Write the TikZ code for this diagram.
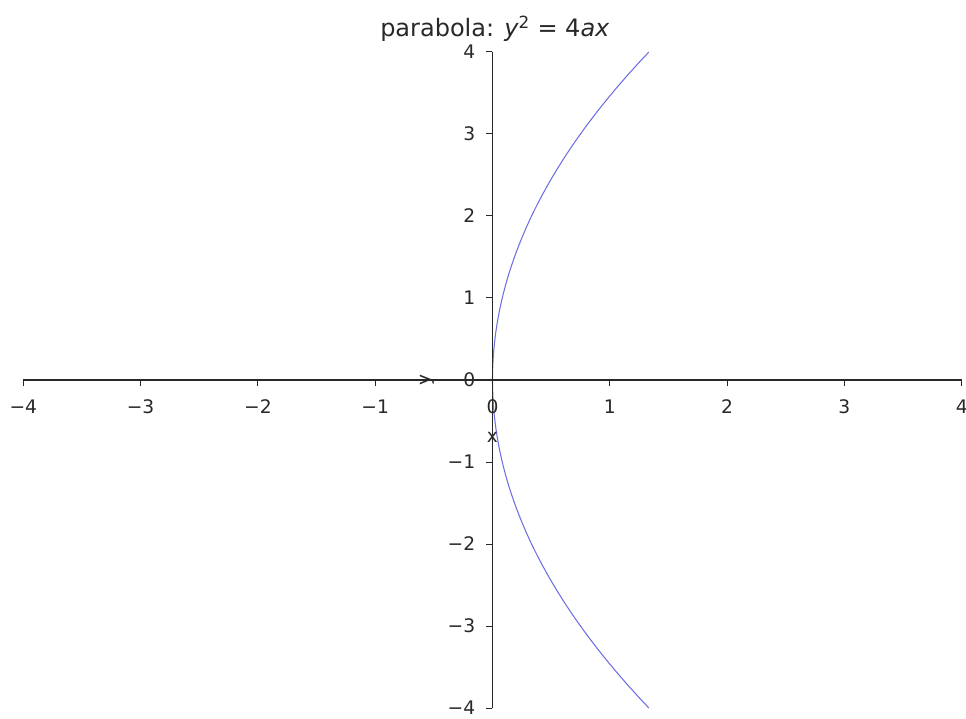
\documentclass[tikz,border=0pt]{standalone}
\usepackage{fontspec}
\setmainfont{DejaVu Sans}
\usepackage{tikz}
\definecolor{curvecolor}{RGB}{112,112,226}
\definecolor{spinecolor}{RGB}{40,40,40}

\begin{document}
\begin{tikzpicture}[
    x=87.975pt, y=61.5pt,
    spine/.style={line width=0.9pt, spinecolor},
    tickmark/.style={line width=0.75pt, spinecolor},
    ticklabel/.style={font=\fontsize{14}{16}\selectfont, inner sep=0pt, text=spinecolor},
    axislabel/.style={font=\fontsize{14}{16}\selectfont, inner sep=0pt, text=spinecolor},
    curve/.style={line width=0.8pt, curvecolor}
]
\useasboundingbox (-4.1986,-4.1220) rectangle (4.0367,4.6341);

% Parabola x = y^2/12
\draw[curve] plot[domain=-4:4, samples=120, smooth] ({\x*\x/12},{\x});

% Spines
\coordinate (xl) at (-4,0);
\coordinate (xr) at (4,0);
\coordinate (yb) at (0,-4);
\coordinate (yt) at (0,4);
\draw[spine] (xl) -- (xr);
\draw[spine] (yb) -- (yt);

% Ticks and labels
\foreach \v/\lab in {-4/−4,-3/−3,-2/−2,-1/−1,0/0,1/1,2/2,3/3,4/4}{
  \draw[tickmark] (\v,0) -- ++(0pt,-4.5pt);
  \node[ticklabel, anchor=base, yshift=-24.75pt] (xt\v) at (\v,0) {\lab};
  \draw[tickmark] (0,\v) -- ++(-4.5pt,0pt);
  \node[ticklabel, anchor=east, xshift=-12.75pt] (yt\v) at (0,\v) {\lab};
}

% Axis labels
\node[axislabel] (xlab) at (0,-0.695) {x};
\node[axislabel, rotate=90] (ylab) at (-0.558,0) {y};

% Title
\node[font=\fontsize{18}{20}\selectfont, inner sep=0pt, anchor=base, text=spinecolor] (title) at (0.02,4.183)
  {parabola: {\itshape y}\textsuperscript{2} = 4{\itshape ax}};

\end{tikzpicture}
\end{document}
